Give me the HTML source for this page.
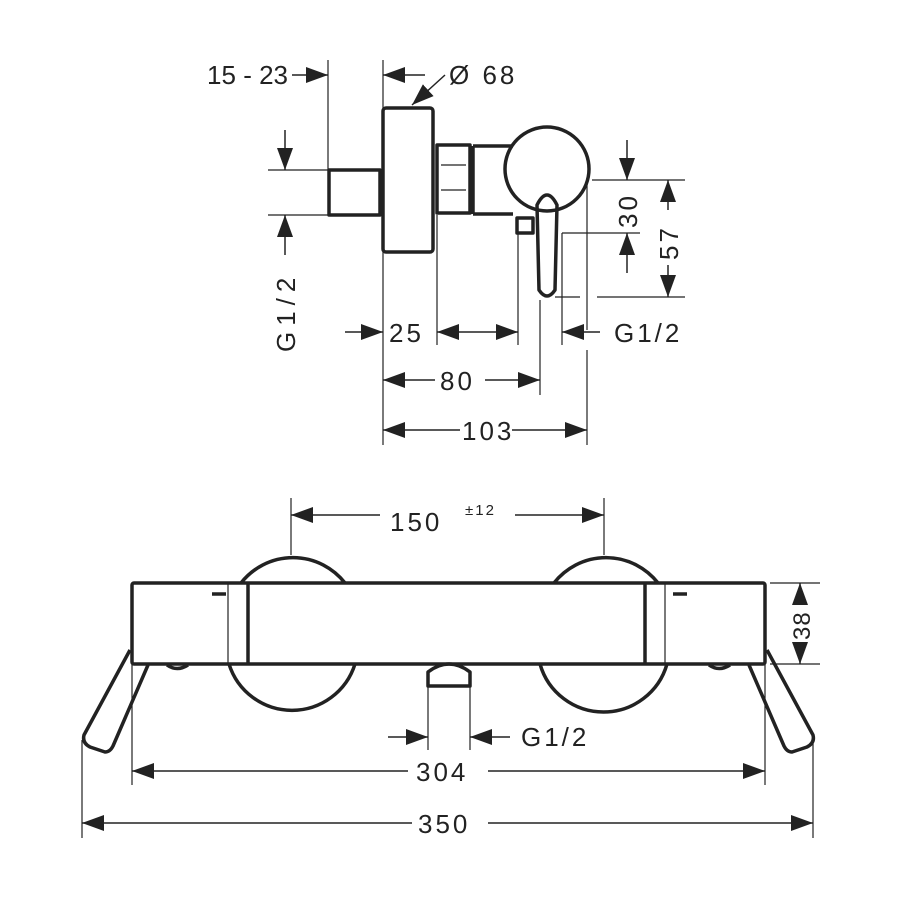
<!DOCTYPE html>
<html><head><style>html,body{margin:0;padding:0;background:#fff}svg{display:block}
text{font-family:"Liberation Sans",sans-serif;font-size:26px;fill:#222;letter-spacing:3px}</style></head>
<body>
<svg width="900" height="900" viewBox="0 0 900 900" xmlns="http://www.w3.org/2000/svg">
<defs>
<marker id="a" markerUnits="userSpaceOnUse" markerWidth="24" markerHeight="16" refX="22" refY="8" orient="auto"><path d="M0,0 L22,8 L0,16 Z" fill="#222"/></marker>
</defs>
<g stroke="#222" fill="none">
<g stroke-width="3.5" stroke-linejoin="round">
<rect x="383" y="108" width="50" height="144" rx="3"/>
<rect x="329" y="170" width="51" height="45"/>
<rect x="437" y="145" width="33" height="68"/>
<path d="M473,146 H513 M473,214 H513 M473,146 V214"/>
<circle cx="547" cy="169" r="42"/>
<path d="M537,205 Q547,185 557,205 L555,290 Q547,302 539,290 Z"/>
<rect x="517" y="218" width="16" height="15"/>
</g>
<g stroke-width="1.2">
<path d="M441,165 H466 M441,190 H466"/>
<path d="M328,60 V170 M383,60 V108 M268,170 H328 M268,215 H328"/>
<path d="M437,215 V345 M518,233 V345 M562,233 V345 M587,178 V330 M587,350 V445 M540,300 V395 M383,252 V445"/>
<path d="M592,180 H685 M562,233 H640 M555,297 H580 M597,297 H685"/>
</g>
<g stroke-width="1.5">
<path d="M292,75 H328" marker-end="url(#a)"/>
<path d="M425,75 H383" marker-end="url(#a)"/>
<path d="M445,75 L412,105" marker-end="url(#a)"/>
<path d="M285,130 V170" marker-end="url(#a)"/>
<path d="M285,255 V215" marker-end="url(#a)"/>
<path d="M345,332 H383" marker-end="url(#a)"/>
<path d="M477,332 H437" marker-end="url(#a)"/>
<path d="M477,332 H518" marker-end="url(#a)"/>
<path d="M600,332 H562" marker-end="url(#a)"/>
<path d="M435,380 H383" marker-end="url(#a)"/>
<path d="M485,380 H540" marker-end="url(#a)"/>
<path d="M460,430 H383" marker-end="url(#a)"/>
<path d="M512,430 H587" marker-end="url(#a)"/>
<path d="M627,140 V180" marker-end="url(#a)"/>
<path d="M627,273 V233" marker-end="url(#a)"/>
<path d="M668,210 V180" marker-end="url(#a)"/>
<path d="M668,265 V297" marker-end="url(#a)"/>
</g>
<g stroke-width="3.5" stroke-linejoin="round">
<path d="M241,583 A66,66 0 0 1 345,583"/>
<path d="M554,583 A66,66 0 0 1 658,583"/>
<path d="M229,664 A66,66 0 0 0 355,664"/>
<path d="M540,664 A66,66 0 0 0 667,664"/>
<rect x="132" y="583" width="633" height="81" rx="2"/>
<path d="M248,583 V664 M645,583 V664"/>
<path d="M212,594 H226 M673,594 H687" />
<path d="M428,686 V672 Q449,656 470,672 V686 Z"/>
<path d="M167,665 Q177,672 188,665 M709,665 Q719,672 730,665"/>
<path d="M130,650 L84,735 Q82,743 90,747 L105,752 Q110,752 113,746 L148,665"/>
<path d="M767,650 L813,735 Q815,743 807,747 L792,752 Q787,752 784,746 L749,665"/>
</g>
<g stroke-width="1.2">
<path d="M228,583 V664 M665,583 V664"/>
<path d="M291,498 V555 M604,498 V555"/>
<path d="M770,583 H820 M770,664 H820"/>
<path d="M428,686 V750 M470,686 V750"/>
<path d="M132,664 V785 M765,664 V785 M82,740 V838 M813,740 V838"/>
</g>
<g stroke-width="1.5">
<path d="M380,515 H291" marker-end="url(#a)"/>
<path d="M515,515 H604" marker-end="url(#a)"/>
<path d="M800,603 V583" marker-end="url(#a)"/>
<path d="M800,644 V664" marker-end="url(#a)"/>
<path d="M388,737 H428" marker-end="url(#a)"/>
<path d="M510,737 H470" marker-end="url(#a)"/>
<path d="M408,771 H132" marker-end="url(#a)"/>
<path d="M488,771 H765" marker-end="url(#a)"/>
<path d="M412,823 H82" marker-end="url(#a)"/>
<path d="M488,823 H813" marker-end="url(#a)"/>
</g>
</g>
<text x="288" y="84" text-anchor="end" style="letter-spacing:0">15 - 23</text>
<text x="449" y="84">Ø 68</text>
<text transform="translate(295,352) rotate(-90)" style="letter-spacing:6px">G1/2</text>
<text x="389" y="342">25</text>
<text x="614" y="342">G1/2</text>
<text x="440" y="390">80</text>
<text x="462" y="440">103</text>
<text transform="translate(637,228) rotate(-90)">30</text>
<text transform="translate(678,260) rotate(-90)">57</text>
<text x="390" y="531">150</text>
<text x="465" y="515" style="font-size:15px;letter-spacing:2px">±12</text>
<text transform="translate(810,640) rotate(-90)" style="font-size:24px;letter-spacing:1px">38</text>
<text x="521" y="746">G1/2</text>
<text x="416" y="781">304</text>
<text x="418" y="833">350</text>
</svg>
</body></html>
